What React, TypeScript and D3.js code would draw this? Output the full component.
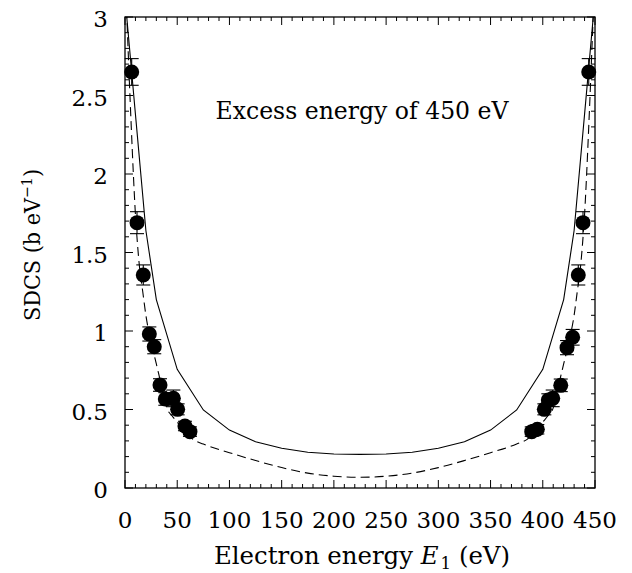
import React, { useEffect, useRef } from "react";
import * as d3 from "d3";

// measured points (electron energy E1 in eV, SDCS, error)
const expEnergy = [
  6.4, 11.5, 17.5, 23.3, 28, 33.5, 38.6, 46.3, 50.4, 57.4, 62.2,
  389.4, 394.8, 401.5, 405.3, 409.5, 417.2, 423.2, 428.6, 434, 438.5, 444,
];
const expSdcs = [
  2.65, 1.69, 1.357, 0.981, 0.9, 0.656, 0.567, 0.571, 0.501, 0.395, 0.359,
  0.359, 0.374, 0.501, 0.56, 0.571, 0.654, 0.894, 0.96, 1.357, 1.69, 2.65,
];
const expErr = [
  0.085, 0.07, 0.064, 0.045, 0.045, 0.04, 0.04, 0.053, 0.035, 0.03, 0.03,
  0.03, 0.03, 0.035, 0.04, 0.053, 0.04, 0.045, 0.05, 0.064, 0.07, 0.085,
];

// theory, solid line
const solidEnergy = [
  1, 10, 20, 30, 50, 75, 100, 125, 150, 175, 200, 225, 250, 275, 300, 325,
  350, 375, 400, 420, 430, 440, 449,
];
const solidSdcs = [
  3.05, 2.38, 1.64, 1.2, 0.756, 0.497, 0.369, 0.295, 0.253, 0.228, 0.217,
  0.214, 0.217, 0.228, 0.253, 0.295, 0.369, 0.497, 0.756, 1.2, 1.64, 2.38,
  3.05,
];

// theory, dashed line
const dashEnergy = [
  1.5, 4, 6, 8, 10, 12, 14, 17, 20, 25, 30, 35, 40, 45, 50, 60, 65, 75, 100,
  125, 150, 175, 200, 225, 250, 275, 300, 325, 350, 375, 385, 390, 400, 405,
  410, 415, 420, 425, 430, 433, 436, 438, 440, 442, 444, 446, 448.5,
];
const dashSdcs = [
  3.05, 2.62, 2.3, 2.0, 1.74, 1.55, 1.4, 1.25, 1.1, 0.93, 0.79, 0.65, 0.51,
  0.46, 0.42, 0.34, 0.31, 0.28, 0.225, 0.175, 0.13, 0.095, 0.075, 0.068,
  0.075, 0.095, 0.13, 0.175, 0.225, 0.28, 0.31, 0.34, 0.42, 0.46, 0.51, 0.65,
  0.79, 0.93, 1.1, 1.25, 1.4, 1.55, 1.74, 2.0, 2.3, 2.62, 3.05,
];

const xTicks = [0, 50, 100, 150, 200, 250, 300, 350, 400, 450];
const yTicks = [0, 0.5, 1, 1.5, 2, 2.5, 3];

const W = 632;
const H = 573;
const margin = { top: 17, right: 37, bottom: 85, left: 125 };
const font = "DejaVu Serif";

function Chart() {
  const ref = useRef<SVGSVGElement>(null);

  useEffect(() => {
    const svg = d3.select(ref.current);
    svg.selectAll("*").remove();

    const x0 = margin.left;
    const x1 = W - margin.right;
    const y0 = H - margin.bottom;
    const y1 = margin.top;

    const x = d3.scaleLinear().domain([0, 450]).range([x0, x1]);
    const y = d3.scaleLinear().domain([0, 3]).range([y0, y1]);

    svg
      .append("defs")
      .append("clipPath")
      .attr("id", "plot-clip")
      .append("rect")
      .attr("x", x0)
      .attr("y", y1)
      .attr("width", x1 - x0)
      .attr("height", y0 - y1);

    // ticks (inward, on all four sides)
    const ticks = svg.append("g").attr("stroke", "#000").attr("stroke-width", 1);
    d3.range(0, 451, 10).forEach((v) => {
      const len = v % 50 === 0 ? 8 : 4;
      ticks.append("line").attr("x1", x(v)).attr("x2", x(v)).attr("y1", y0).attr("y2", y0 - len);
      ticks.append("line").attr("x1", x(v)).attr("x2", x(v)).attr("y1", y1).attr("y2", y1 + len);
    });
    d3.range(0, 31).forEach((i) => {
      const v = i / 10;
      const len = i % 5 === 0 ? 8 : 4;
      ticks.append("line").attr("x1", x0).attr("x2", x0 + len).attr("y1", y(v)).attr("y2", y(v));
      ticks.append("line").attr("x1", x1).attr("x2", x1 - len).attr("y1", y(v)).attr("y2", y(v));
    });

    // tick labels
    svg
      .append("g")
      .selectAll("text")
      .data(xTicks)
      .enter()
      .append("text")
      .attr("x", (d) => x(d))
      .attr("y", y0 + 40)
      .attr("text-anchor", "middle")
      .attr("font-family", font)
      .attr("font-size", 23)
      .text((d) => String(d));

    svg
      .append("g")
      .selectAll("text")
      .data(yTicks)
      .enter()
      .append("text")
      .attr("x", x0 - 17)
      .attr("y", (d) => y(d) + 10)
      .attr("text-anchor", "end")
      .attr("font-family", font)
      .attr("font-size", 23)
      .text((d) => String(d));

    const plot = svg.append("g").attr("clip-path", "url(#plot-clip)");

    plot
      .append("path")
      .attr(
        "d",
        d3.line<number>()
          .x((_, i) => x(solidEnergy[i]))
          .y((d) => y(d))(solidSdcs)
      )
      .attr("fill", "none")
      .attr("stroke", "#000")
      .attr("stroke-width", 1.1);

    plot
      .append("path")
      .attr(
        "d",
        d3.line<number>()
          .x((_, i) => x(dashEnergy[i]))
          .y((d) => y(d))
          .curve(d3.curveMonotoneX)(dashSdcs)
      )
      .attr("fill", "none")
      .attr("stroke", "#000")
      .attr("stroke-width", 1.1)
      .attr("stroke-dasharray", "9,5");

    // error bars
    const eb = svg.append("g").attr("stroke", "#000").attr("stroke-width", 1.1);
    expEnergy.forEach((e, i) => {
      const cx = x(e);
      const top = y(expSdcs[i] + expErr[i]);
      const bot = y(expSdcs[i] - expErr[i]);
      eb.append("line").attr("x1", cx).attr("x2", cx).attr("y1", top).attr("y2", bot);
      eb.append("line").attr("x1", cx - 7).attr("x2", cx + 7).attr("y1", top).attr("y2", top);
      eb.append("line").attr("x1", cx - 7).attr("x2", cx + 7).attr("y1", bot).attr("y2", bot);
    });

    svg
      .append("g")
      .selectAll("circle")
      .data(expEnergy)
      .enter()
      .append("circle")
      .attr("cx", (d) => x(d))
      .attr("cy", (_, i) => y(expSdcs[i]))
      .attr("r", 7.5)
      .attr("fill", "#000");

    // frame
    svg
      .append("rect")
      .attr("x", x0)
      .attr("y", y1)
      .attr("width", x1 - x0)
      .attr("height", y0 - y1)
      .attr("fill", "none")
      .attr("stroke", "#000")
      .attr("stroke-width", 1.3);

    // annotation
    svg
      .append("text")
      .attr("x", (x0 + x1) / 2 + 2)
      .attr("y", 119)
      .attr("text-anchor", "middle")
      .attr("font-family", font)
      .attr("font-size", 25)
      .attr("textLength", 293)
      .attr("lengthAdjust", "spacingAndGlyphs")
      .text("Excess energy of 450 eV");

    // x title
    const xt = svg
      .append("text")
      .attr("x", 362)
      .attr("y", 564)
      .attr("text-anchor", "middle")
      .attr("font-family", font)
      .attr("font-size", 25)
      .attr("textLength", 296)
      .attr("lengthAdjust", "spacingAndGlyphs");
    xt.append("tspan").text("Electron energy ");
    xt.append("tspan").attr("font-style", "italic").text("E");
    xt.append("tspan").attr("font-size", 17).attr("dx", 2).attr("dy", 5).text("1");
    xt.append("tspan").attr("dy", -5).text(" (eV)");

    // y title
    const yt = svg
      .append("text")
      .attr("transform", "translate(40,245) rotate(-90)")
      .attr("text-anchor", "middle")
      .attr("font-family", font)
      .attr("font-size", 22)
      .attr("textLength", 152)
      .attr("lengthAdjust", "spacingAndGlyphs");
    yt.append("tspan").text("SDCS (b eV");
    yt.append("tspan").attr("font-size", 15).attr("dy", -8).text("\u22121");
    yt.append("tspan").attr("dy", 8).text(")");
  }, []);

  return (
    <svg
      ref={ref}
      width={W}
      height={H}
      style={{ position: "absolute", left: 0, top: 0, background: "#fff" }}
    />
  );
}

export default function App() {
  return <Chart />;
}
